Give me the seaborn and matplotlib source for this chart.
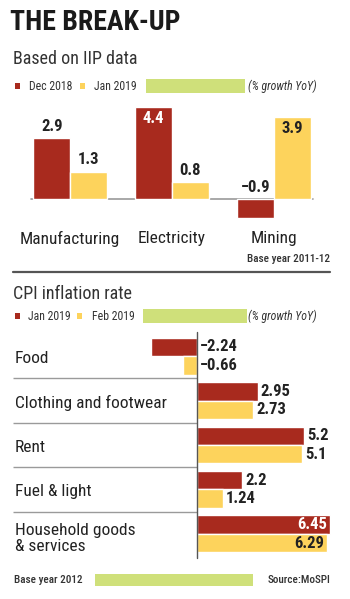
import matplotlib
matplotlib.use("Agg")
import matplotlib.pyplot as plt
from matplotlib import font_manager
from matplotlib.lines import Line2D
from matplotlib.patches import Rectangle
import seaborn as sns
import pandas as pd

# ---- data ----
iip_categories = ["Manufacturing", "Electricity", "Mining"]
iip_dec2018 = [2.9, 4.4, -0.9]
iip_jan2019 = [1.3, 0.8, 3.9]
iip_periods = ["Dec 2018", "Jan 2019"]

cpi_categories = ["Food", "Clothing and footwear", "Rent", "Fuel & light",
                  "Household goods\n& services"]
cpi_jan2019 = [-2.24, 2.95, 5.2, 2.2, 6.45]
cpi_feb2019 = [-0.66, 2.73, 5.1, 1.24, 6.29]
cpi_periods = ["Jan 2019", "Feb 2019"]

RED = "#A82A1E"
YEL = "#FDD35C"
GRN = "#CFE07A"
TXT = "#222222"

sns.set_theme(style="white")
avail = {f.name for f in font_manager.fontManager.ttflist}
FONT = "DejaVu Sans"
for cand in ["Liberation Sans Narrow", "Roboto Condensed", "Open Sans Condensed",
             "Noto Sans Condensed", "Roboto", "Lato"]:
    if cand in avail:
        FONT = cand
        break
plt.rcParams["font.family"] = [FONT, "DejaVu Sans"]

W, H = 350, 599
fig = plt.figure(figsize=(W / 100, H / 100), dpi=100)
fig.patch.set_facecolor("white")


def fx(x):
    return x / W


def fy(y):
    return 1 - y / H


def px_axes(x0, y0, x1, y1):
    return fig.add_axes([fx(x0), fy(y1), (x1 - x0) / W, (y1 - y0) / H])


# ---- header ----
fig.text(fx(10), fy(22), "THE BREAK-UP", fontsize=20, fontweight="heavy",
         color="#1a1a1a", va="center", ha="left")
fig.text(fx(13), fy(59), "Based on IIP data", fontsize=13, color="#333333",
         va="center", ha="left")


def legend_row(yc, labels, xs_sq, xs_txt, green_x0, green_x1, note_x):
    for xs, col in zip(xs_sq, [RED, YEL]):
        fig.add_artist(Rectangle((fx(xs), fy(yc + 3)), 5 / W, 6 / H,
                                 transform=fig.transFigure, color=col, lw=0))
    for xt, lab in zip(xs_txt, labels):
        fig.text(fx(xt), fy(yc), lab, fontsize=8.5, color="#333333",
                 va="center", ha="left")
    fig.add_artist(Rectangle((fx(green_x0), fy(yc + 7)), (green_x1 - green_x0) / W,
                             14 / H, transform=fig.transFigure, color=GRN, lw=0))
    fig.text(fx(note_x), fy(yc), "(% growth YoY)", fontsize=8.5, style="italic",
             color="#333333", va="center", ha="left")


legend_row(86, iip_periods, [15, 80], [29, 94], 146, 245, 248)

# ---- top chart ----
df1 = pd.DataFrame({
    "cat": iip_categories * 2,
    "val": iip_dec2018 + iip_jan2019,
    "period": [iip_periods[0]] * 3 + [iip_periods[1]] * 3,
})
ax1 = px_axes(19, 100, 325, 225)
sns.barplot(data=df1, x="cat", y="val", hue="period", palette=[RED, YEL],
            width=0.72, gap=0, saturation=1, errorbar=None, legend=False, ax=ax1)
ax1.set_xlim(-0.5, 2.5)
ax1.set_ylim(-1.24, 4.71)
ax1.axhline(0, xmin=0.04, xmax=0.96, color="#9a9a9a", lw=1.2, zorder=0)
for s in ax1.spines.values():
    s.set_visible(False)
ax1.set_yticks([])
ax1.set_xlabel("")
ax1.set_ylabel("")
ax1.tick_params(axis="x", length=0, pad=4, labelsize=12.5, labelcolor=TXT)
ax1.patch.set_alpha(0)

for ci, cont in enumerate(ax1.containers):
    for bar in cont:
        v = bar.get_height() if bar.get_y() >= 0 else -bar.get_height()
        xc = bar.get_x() + bar.get_width() / 2
        if v > 3.5:
            col = "white" if ci == 0 else TXT
            ax1.annotate(f"{v:g}", (xc, v), xytext=(0, -3), textcoords="offset points",
                         ha="center", va="top", fontsize=12, fontweight="bold", color=col)
        elif v >= 0:
            ax1.annotate(f"{v:g}", (xc, v), xytext=(0, 3), textcoords="offset points",
                         ha="center", va="bottom", fontsize=12, fontweight="bold", color=TXT)
        else:
            ax1.annotate(f"\u2212{abs(v):g}", (xc, 0), xytext=(0, 3), textcoords="offset points",
                         ha="center", va="bottom", fontsize=12, fontweight="bold", color=TXT)

fig.text(fx(330), fy(259), "Base year 2011-12", fontsize=8, color="#333333",
         fontweight="medium", ha="right", va="center")
fig.add_artist(Line2D([fx(13), fx(330)], [fy(272), fy(272)], color="#555555", lw=1.6,
                      transform=fig.transFigure))

# ---- CPI header ----
fig.text(fx(13), fy(294), "CPI inflation rate", fontsize=13, color="#333333",
         va="center", ha="left")
legend_row(316, cpi_periods, [15, 77], [28, 92], 143, 247, 248)

# ---- bottom chart ----
df2 = pd.DataFrame({
    "cat": cpi_categories * 2,
    "val": cpi_jan2019 + cpi_feb2019,
    "period": [cpi_periods[0]] * 5 + [cpi_periods[1]] * 5,
})
ax2 = px_axes(13, 334, 335, 556)
sns.barplot(data=df2, y="cat", x="val", hue="period", orient="h", palette=[RED, YEL],
            width=0.83, gap=0, saturation=1, errorbar=None, legend=False, ax=ax2)
x_left = -(197 - 13) / 20.6
ax2.set_xlim(x_left, (335 - 197) / 20.6)
ax2.set_ylim(4.5, -0.5)
for s in ax2.spines.values():
    s.set_visible(False)
ax2.set_xticks([])
ax2.set_yticks([])
ax2.set_xlabel("")
ax2.set_ylabel("")
ax2.patch.set_alpha(0)
ax2.axvline(0, ymin=-0.01, ymax=1.01, color="#555555", lw=1.0, clip_on=False, zorder=5)
ax2.hlines([0.5, 1.5, 2.5, 3.5], x_left, 0, color="#9a9a9a", lw=1.0)

for i, cat in enumerate(cpi_categories):
    ax2.text(x_left + 0.1, i + (0.1 if "\n" in cat else 0.05), cat, fontsize=12.5,
             color=TXT, ha="left", va="center", linespacing=1.05)

for ci, cont in enumerate(ax2.containers):
    for bar in cont:
        w = bar.get_width()
        v = w if bar.get_x() >= 0 else -abs(w)
        yc = bar.get_y() + bar.get_height() / 2
        if v > 6:
            col = "white" if ci == 0 else TXT
            ax2.annotate(f"{v:g}", (v, yc), xytext=(-2, 0), textcoords="offset points",
                         ha="right", va="center", fontsize=12, fontweight="bold", color=col)
        elif v >= 0:
            ax2.annotate(f"{v:g}", (v, yc), xytext=(2, 0), textcoords="offset points",
                         ha="left", va="center", fontsize=12, fontweight="bold", color=TXT)
        else:
            ax2.annotate(f"\u2212{abs(v):g}", (0, yc), xytext=(2, 0), textcoords="offset points",
                         ha="left", va="center", fontsize=12, fontweight="bold", color=TXT)

# ---- footer ----
fig.text(fx(14), fy(580), "Base year 2012", fontsize=8, color="#333333",
         fontweight="medium", ha="left", va="center")
fig.add_artist(Rectangle((fx(95), fy(586)), (253 - 95) / W, 12 / H,
                         transform=fig.transFigure, color=GRN, lw=0))
fig.text(fx(331), fy(580), "Source:MoSPI", fontsize=8, color="#333333",
         fontweight="medium", ha="right", va="center")

fig.savefig("out.png", dpi=100, facecolor="white")
